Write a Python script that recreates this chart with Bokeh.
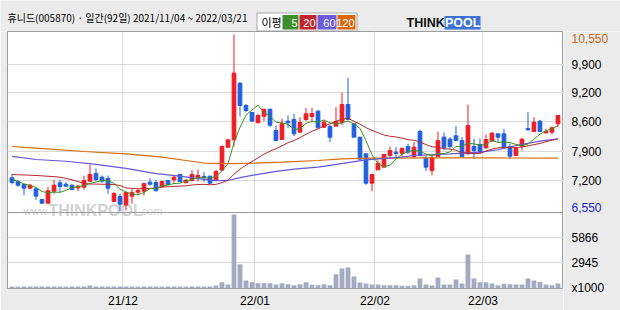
from bokeh.plotting import figure
from bokeh.layouts import column, row
from bokeh.models import (Range1d, LinearAxis, FixedTicker, Span, Label, Grid,
                          ColumnDataSource)
from bokeh.core.properties import value
from bokeh.embed import file_html
from bokeh.resources import INLINE

# ---------------- data ----------------
title_text = "휴니드(005870) · 일간(92일) 2021/11/04 ~ 2022/03/21"

opens = [7305, 7222, 7154, 7071, 7056, 6814, 6731, 7003, 7192, 7161,
         7139, 7078, 7094, 7229, 7403, 7320, 7290, 6769, 6882, 6694,
         6890, 6980, 7003, 7207, 7199, 7101, 7244, 7259, 7380, 7192,
         7244, 7305, 7335, 7343, 7244, 7479, 7999, 8165, 9448, 8943,
         8784, 8550, 8701, 8859, 8377, 8173, 8588, 8626, 8339, 8626,
         8693, 8814, 8452, 8467, 8475, 8550, 8965, 8527, 8226, 7848,
         7184, 7486, 7546, 7810, 7886, 7863, 8014, 7788, 8354, 7750,
         7471, 7788, 8226, 8180, 8256, 8150, 7848, 8014, 8060, 7984,
         8135, 8301, 8301, 8014, 7810, 8022, 8422, 8354, 8588, 8324,
         8339, 8527]
highs = [7395, 7259, 7169, 7169, 7071, 6830, 7094, 7259, 7259, 7214,
         7154, 7146, 7350, 7607, 7516, 7358, 7358, 6988, 6943, 6988,
         7056, 7056, 7177, 7297, 7259, 7244, 7259, 7358, 7395, 7274,
         7479, 7493, 7433, 7350, 7486, 8037, 8188, 10550, 9471, 8980,
         8792, 8754, 8859, 8867, 8490, 8641, 8716, 8754, 8678, 8890,
         8890, 8844, 8603, 8512, 8905, 9237, 9569, 8527, 8226, 7848,
         7380, 7697, 7848, 8014, 7999, 7976, 8075, 8112, 8392, 7810,
         7810, 8354, 8331, 8226, 8482, 8226, 8965, 8188, 8188, 8286,
         8339, 8301, 8414, 8075, 7999, 8211, 8792, 8678, 8618, 8414,
         8467, 8716]
lows = [7154, 7094, 6912, 7048, 6807, 6716, 6731, 6943, 6980, 7094,
        7018, 7003, 7033, 7207, 7229, 7192, 6943, 6754, 6550, 6565,
        6716, 6927, 6905, 7131, 7003, 7094, 7131, 7169, 7207, 7184,
        7222, 7222, 7207, 7169, 7244, 7479, 7976, 8014, 8693, 8792,
        8588, 8550, 8588, 8452, 8135, 8173, 8437, 8248, 8324, 8588,
        8588, 8437, 8437, 8112, 8475, 8497, 8626, 8226, 7727, 7146,
        7003, 7486, 7546, 7758, 7773, 7773, 7848, 7773, 7810, 7456,
        7358, 7773, 7924, 7961, 8135, 7788, 7833, 7735, 7848, 7961,
        8135, 8112, 7961, 7735, 7810, 7924, 8377, 8354, 8354, 8301,
        8286, 8452]
closes = [7199, 7139, 7071, 7139, 6890, 6731, 7011, 7139, 7109, 7116,
          7041, 7116, 7244, 7380, 7267, 7229, 7071, 6950, 6709, 6973,
          6973, 7018, 7177, 7161, 7011, 7222, 7154, 7320, 7222, 7252,
          7380, 7358, 7320, 7184, 7449, 8014, 8165, 9675, 8943, 8829,
          8588, 8716, 8859, 8497, 8150, 8527, 8550, 8301, 8558, 8754,
          8761, 8437, 8565, 8226, 8580, 8965, 8626, 8226, 7727, 7184,
          7380, 7637, 7833, 7924, 7856, 7976, 7886, 7999, 7810, 7546,
          7765, 8150, 7984, 8014, 8150, 7788, 8490, 7924, 7886, 8173,
          8316, 8226, 7999, 7795, 7976, 8180, 8392, 8565, 8354, 8354,
          8437, 8716]
# volume, thousands of shares
volumes = [170, 160, 180, 165, 175, 170, 185, 170, 165, 160,
           170, 165, 175, 290, 180, 170, 175, 165, 180, 170,
           165, 160, 170, 165, 175, 160, 165, 170, 165, 160,
           170, 165, 175, 180, 293, 683, 410, 8600, 2788, 878,
           683, 566, 566, 566, 410, 566, 449, 332, 449, 683,
           371, 332, 449, 332, 1618, 2282, 2398, 1346, 644, 527,
           410, 410, 332, 332, 332, 254, 254, 332, 1112, 410,
           293, 1229, 410, 410, 995, 527, 3920, 1112, 683, 683,
           527, 332, 488, 449, 410, 410, 1112, 878, 722, 410,
           332, 527]

ma5_head = [7275, 7222, 7169, 7131]
ma20_head = [7380, 7375, 7370, 7364, 7358, 7350, 7340, 7330, 7320, 7290,
             7259, 7220, 7180, 7165, 7162, 7160, 7157, 7154, 7131]
ma60_idx = [0, 4, 9, 14, 19, 24, 28, 31, 34, 36, 38, 40, 42, 44, 47, 51, 56,
            59, 65, 67, 73, 78, 81, 84, 88, 91]
ma60_val = [7790, 7720, 7680, 7610, 7520, 7400, 7345, 7285, 7240, 7245, 7310,
            7360, 7405, 7450, 7500, 7546, 7650, 7712, 7773, 7810, 7848, 7886,
            7940, 8037, 8135, 8188]
ma120_idx = [0, 4, 12, 19, 25, 29, 32, 37, 45, 51, 55, 60, 70, 80, 91]
ma120_val = [8014, 7976, 7901, 7848, 7773, 7697, 7640, 7625, 7660, 7697, 7735,
             7750, 7758, 7755, 7750]

month_start_idx = [19, 41, 61, 79]
month_labels = ["21/12", "22/01", "22/02", "22/03"]
price_grid_values = [9878, 9230, 8580, 7901, 7244]
price_grid_labels = ["9,900", "9,200", "8,600", "7,900", "7,200"]
price_max_label = "10,550"
price_min_label = "6,550"
vol_grid_values = [5866, 2945]
vol_grid_labels = ["5866", "2945"]
vol_unit_label = "x1000"
legend_title = "이평"
legend_periods = ["5", "20", "60", "120"]

# ---------------- derived ----------------
n = len(closes)
idx = list(range(n))
ma5 = [ma5_head[i] if i < 4 else sum(closes[i - 4:i + 1]) / 5 for i in idx]
ma20 = [ma20_head[i] if i < 19 else sum(closes[i - 19:i + 1]) / 20 for i in idx]

RED, BLUE = "#EE1C24", "#2060E0"
colors = [RED if c >= o else BLUE for o, c in zip(opens, closes)]
src = ColumnDataSource(dict(
    x=idx, o=opens, h=highs, l=lows, c=closes,
    top=[max(o, c) for o, c in zip(opens, closes)],
    bot=[min(o, c) for o, c in zip(opens, closes)],
    color=colors, vol=volumes))

BG = "#EBEBEB"
FRAME_LINE = "#9C9C9C"
GRID = "#DADADA"
MA_COLORS = ["#3F921F", "#B8282C", "#6656DA", "#D86C0A"]
LEG_COLORS = ["#3E8E2A", "#C0272D", "#6A5CDD", "#D9660B"]

# ---------------- geometry ----------------
W, H = 620, 310
HEAD_H = 31                       # header strip
MAIN_W, SIDE_W = 563, 57
BODY_H = H - HEAD_H               # 279
B_LEFT, B_BOTTOM = 7, 22
frame_h = BODY_H - B_BOTTOM       # 257
y0, y1 = 4799.0, 10618.0          # price range over the main frame
v0, v1 = -58.5, 30010.0           # volume range over the main frame
per_px = (y1 - y0) / frame_h


def vol_to_price_axis(v):
    return y0 + (v - v0) * (y1 - y0) / (v1 - v0)


# ---------------- main chart ----------------
p = figure(width=MAIN_W, height=BODY_H, title=None,
           x_range=Range1d(-0.75, 91.92), y_range=Range1d(y0, y1),
           x_axis_type=None, y_axis_type=None,
           toolbar_location=None, output_backend="svg",
           min_border_left=B_LEFT, min_border_right=0,
           min_border_top=0, min_border_bottom=B_BOTTOM,
           background_fill_color="white", border_fill_color=BG,
           outline_line_color=FRAME_LINE)
p.extra_y_ranges = {"vol": Range1d(v0, v1)}

month_ticks = [m - 0.5 for m in month_start_idx]
p.add_layout(Grid(dimension=0, ticker=FixedTicker(ticks=month_ticks),
                  grid_line_color=GRID), "center")
p.add_layout(Grid(dimension=1, ticker=FixedTicker(ticks=price_grid_values),
                  grid_line_color=GRID), "center")
p.add_layout(Grid(dimension=1, ticker=FixedTicker(ticks=vol_grid_values),
                  y_range_name="vol", grid_line_color=GRID), "center")

# separator between price and volume panels (canvas row 212)
sep_val = y1 - (212 - HEAD_H) * per_px
p.add_layout(Span(location=sep_val, dimension="width",
                  line_color=FRAME_LINE, line_width=1))

# watermark
WM = "#D2D2D2"
for txt, xs, size, style in [("www.", 16, "11px", "normal"),
                              ("THINKPOOL", 41, "16px", "bold"),
                              (".com", 131, "11px", "normal")]:
    p.add_layout(Label(x=xs, y=78, x_units="screen", y_units="screen",
                       text=txt, text_color=WM, text_font_size=size,
                       text_font_style=style, text_font="Liberation Sans",
                       text_baseline="alphabetic", level="underlay"))

# volume bars
p.vbar(x="x", width=0.8, top="vol", bottom=0, y_range_name="vol",
       fill_color="#A3ABC0", line_color=None, source=src)

# candles
p.segment(x0="x", y0="h", x1="x", y1="l", line_color="color",
          line_width=1, source=src)
p.vbar(x="x", width=0.62, top="top", bottom="bot", fill_color="color",
       line_color="color", line_width=1, source=src)

# moving averages
p.line(ma120_idx, ma120_val, line_color=MA_COLORS[3], line_width=1.2)
p.line(ma60_idx, ma60_val, line_color=MA_COLORS[2], line_width=1.2)
p.line(idx, ma20, line_color=MA_COLORS[1], line_width=1)
p.line(idx, ma5, line_color=MA_COLORS[0], line_width=1)

ax_b = LinearAxis(ticker=FixedTicker(ticks=month_ticks),
                  major_label_overrides={t: l for t, l in zip(month_ticks, month_labels)},
                  axis_line_color=None, major_tick_line_color=None,
                  minor_tick_line_color=None, major_tick_out=0,
                  major_tick_in=0, major_label_standoff=5,
                  major_label_text_font="Liberation Sans",
                  major_label_text_font_size="12px",
                  major_label_text_color="black")
p.add_layout(ax_b, "below")

# ---------------- right-hand value scale ----------------
side = figure(width=SIDE_W, height=BODY_H, title=None,
              x_range=Range1d(0, SIDE_W),
              toolbar_location=None, output_backend="svg",
              x_axis_type=None, y_axis_type=None,
              min_border_left=0, min_border_right=0,
              min_border_top=0, min_border_bottom=0,
              background_fill_color=BG, border_fill_color=BG,
              outline_line_color=None)
try:
    p.frame_align = False
    side.frame_align = False
    side.y_range = Range1d(y1 - BODY_H * per_px, y1)
except Exception:
    side.y_range = Range1d(y0, y1)

lab_y = ([max(highs)] + price_grid_values + [min(lows)]
         + [vol_to_price_axis(v) for v in vol_grid_values] + [vol_to_price_axis(0)])
lab_t = ([price_max_label] + price_grid_labels + [price_min_label]
         + vol_grid_labels + [vol_unit_label])
lab_c = (["#CC6611"] + ["black"] * len(price_grid_labels) + ["#1A22CC"]
         + ["black"] * (len(vol_grid_labels) + 1))
lab_off = [4] + [0] * len(price_grid_labels) + [-4] + [0] * (len(vol_grid_labels) + 1)
side.text(x=[8] * len(lab_y), y=lab_y, text=lab_t, text_color=lab_c,
          y_offset=lab_off, text_font=value("Liberation Sans"),
          text_font_size="12px", text_baseline="middle", text_align="left")

# ---------------- header strip ----------------
head = figure(width=W, height=HEAD_H, title=None,
              x_range=Range1d(0, W), y_range=Range1d(HEAD_H, 0),
              x_axis_type=None, y_axis_type=None,
              toolbar_location=None, output_backend="svg",
              min_border_left=0, min_border_right=0,
              min_border_top=0, min_border_bottom=0,
              background_fill_color=BG, border_fill_color=BG,
              outline_line_color=None)
try:
    head.frame_align = False
except Exception:
    pass
head.text(x=[7], y=[16.5], text=[title_text], text_color="black",
          text_font=value("Noto Sans CJK KR"),
          text_font_size="10px", text_baseline="middle", text_align="left")
# legend box
head.quad(left=[256.5], right=[356.5], top=[12.5], bottom=[30.5],
          fill_color="white", line_color="#A8A8A8", line_width=1)
head.text(x=[261], y=[21.5], text=[legend_title], text_color="black",
          text_font=value("Noto Sans CJK KR"), text_font_size="11px",
          text_baseline="middle", text_align="left")
box_l = [282, 299, 317, 337]
box_r = [298, 316, 336, 355]
head.quad(left=box_l, right=box_r, top=[14.5] * 4, bottom=[29] * 4,
          fill_color=LEG_COLORS, line_color=None)
head.text(x=[r - 1 for r in box_r], y=[22] * 4, text=legend_periods,
          text_color="white", text_font=value("Liberation Sans"),
          text_font_size="11px", text_baseline="middle", text_align="right")
# logo
head.quad(left=[444], right=[480], top=[15.5], bottom=[29],
          fill_color="#3D74D6", line_color=None)
head.text(x=[406], y=[22.5], text=["THINK"], text_color="#111111",
          text_font=value("Liberation Sans"), text_font_style="bold",
          text_font_size="12.5px", text_baseline="middle", text_align="left")
head.text(x=[444.5], y=[22.5], text=["POOL"], text_color="white",
          text_font=value("Liberation Sans"), text_font_style="bold",
          text_font_size="12.5px", text_baseline="middle", text_align="left")

layout = column(head, row(p, side, spacing=0), spacing=0)

open("out.html", "w").write(file_html(layout, INLINE))
